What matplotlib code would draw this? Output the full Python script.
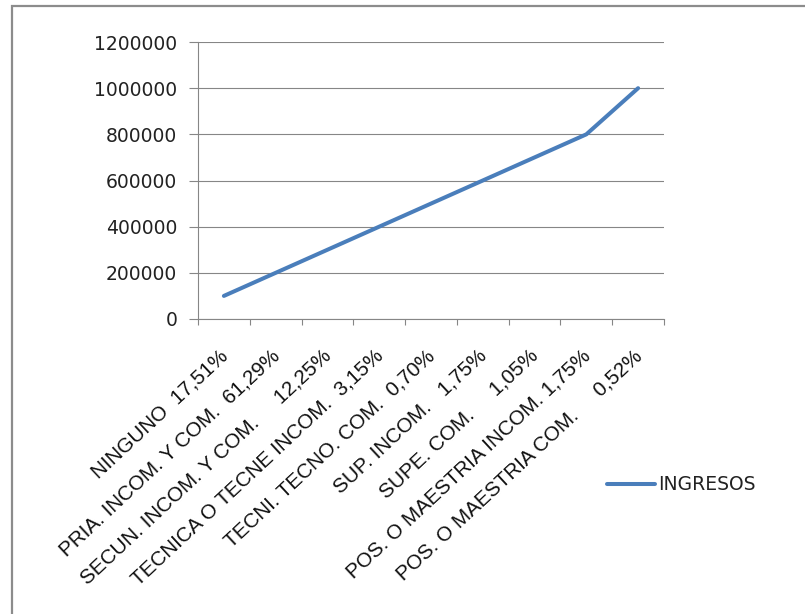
import matplotlib
matplotlib.use("Agg")
import matplotlib.pyplot as plt
import matplotlib.transforms as mtransforms
from matplotlib.patches import Rectangle

# data
categorias = [
    "NINGUNO  17,51%",
    "PRIA. INCOM. Y COM.  61,29%",
    "SECUN. INCOM. Y COM.     12,25%",
    "TECNICA O TECNE INCOM.  3,15%",
    "TECNI. TECNO. COM.  0,70%",
    "SUP. INCOM.   1,75%",
    "SUPE. COM.     1,05%",
    "POS. O MAESTRIA INCOM. 1,75%",
    "POS. O MAESTRIA COM.     0,52%",
]
ingresos = [100000, 200000, 300000, 400000, 500000, 600000, 700000, 800000, 1000000]
y_ticks = [0, 200000, 400000, 600000, 800000, 1000000, 1200000]

W, H = 805, 614
BLUE = "#4a7ebb"
GRID = "#868686"

fig = plt.figure(figsize=(W / 100, H / 100), dpi=100)
ax = fig.add_axes([198 / W, (H - 319) / H, (664 - 198) / W, (319 - 42) / H])

x = list(range(len(categorias)))
ax.plot(x, ingresos, color=BLUE, lw=2.9, solid_capstyle="round", label="INGRESOS")

ax.set_xlim(-0.5, len(categorias) - 0.5)
ax.set_ylim(0, 1200000)
ax.set_yticks(y_ticks)
ax.set_yticklabels([str(v) for v in y_ticks], family="DejaVu Sans", fontsize=13.5,
                   color="#222222")
ax.yaxis.grid(True, color=GRID, lw=0.8)
ax.set_axisbelow(True)
ax.tick_params(axis="y", length=6.5, width=0.8, color=GRID, pad=8.5)

# category boundaries get the ticks, labels sit at the centres
ax.set_xticks([i - 0.5 for i in range(len(categorias) + 1)])
ax.set_xticklabels([])
ax.tick_params(axis="x", which="major", length=4, width=0.8, color=GRID)
ax.set_xticks(x, minor=True)
ax.tick_params(axis="x", which="minor", length=0)
off = mtransforms.ScaledTranslation(1 / 100, -34 / 100, fig.dpi_scale_trans)
for i, lab in enumerate(categorias):
    ax.text(i, 0, lab, transform=ax.get_xaxis_transform() + off,
            rotation=43, rotation_mode="anchor", ha="right", va="center",
            family="Liberation Sans", fontsize=14.85, color="#111111")

for s in ("top", "right"):
    ax.spines[s].set_visible(False)
for s in ("left", "bottom"):
    ax.spines[s].set_color(GRID)
    ax.spines[s].set_linewidth(0.8)

fig.legend(loc="center left", bbox_to_anchor=(607 / W, 1 - 485 / H), frameon=False,
           prop={"family": "DejaVu Sans", "size": 13.5}, handlelength=2.55,
           handletextpad=0.2, borderpad=0, borderaxespad=0, labelcolor="#222222")

# outer chart-area frame (only top and left visible in the crop)
fig.add_artist(Rectangle((12 / W, -0.1), 1.2, 1.1 - 6 / H, transform=fig.transFigure,
                         fill=False, ec="#8c8c8c", lw=1.6))

fig.savefig("out.png", dpi=100)
